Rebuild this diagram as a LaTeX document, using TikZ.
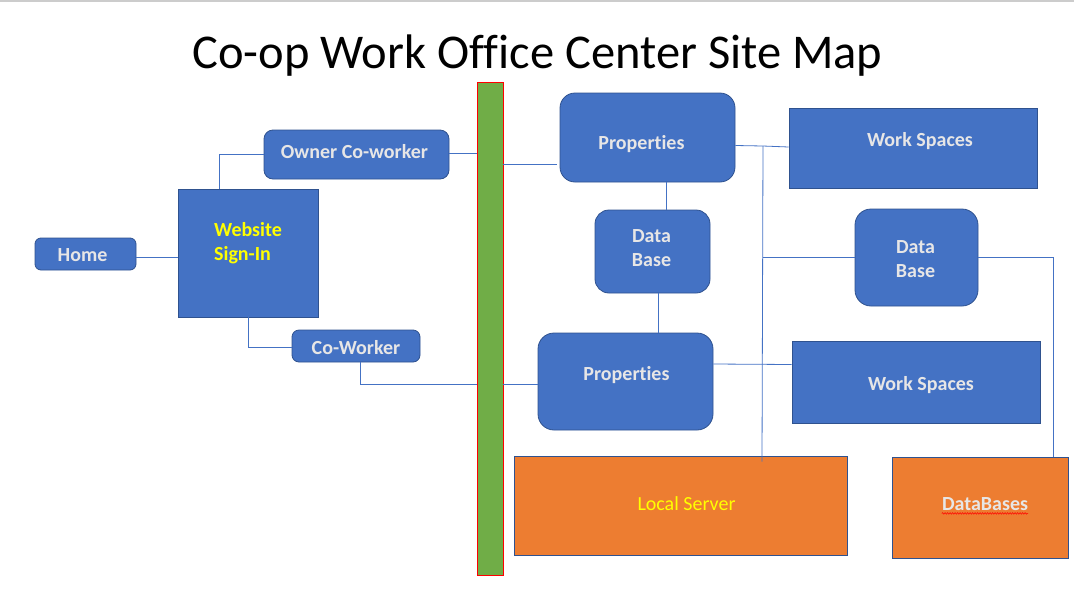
\documentclass[tikz,border=0pt]{standalone}
\usepackage{fontspec}
\setmainfont{Carlito}[Ligatures=NoCommon]
\usetikzlibrary{positioning,decorations.pathmorphing}
\definecolor{cblue}{HTML}{4472C4}
\definecolor{cedge}{HTML}{2F528F}
\definecolor{corange}{HTML}{ED7D31}
\definecolor{cgreen}{HTML}{70AD47}
\definecolor{clight}{HTML}{E7E6E6}
\definecolor{cyellow}{HTML}{FFFF00}

\begin{document}
\begin{tikzpicture}[x=1pt, y=-1pt,
    box/.style={draw=cedge, fill=cblue, line width=0.8pt, inner sep=0pt},
    rbox/.style={box, rounded corners=#1},
    srv/.style={draw=cedge, fill=corange, line width=0.8pt, inner sep=0pt},
    lbl/.style={inner sep=0pt, text=clight, font=\bfseries\fontsize{20}{24}\selectfont, align=center},
    link/.style={draw=cblue, line width=0.8pt}
  ]
  \useasboundingbox (0,0) rectangle (1074,590);
  \draw[line width=1.2pt, black!20] (0,1) -- (1074,1);

  % title
  \node[anchor=base, inner sep=0pt, font=\fontsize{48.5}{58}\selectfont] (title) at (537.5,68) {Co-op Work Office Center Site Map};

  % left side
  \node[rbox=6pt, minimum width=101, minimum height=32] (home) at (85.5,254) {};
  \node[box, minimum width=140, minimum height=128] (web) at (248,253) {};
  \node[rbox=9pt, minimum width=185, minimum height=49] (owner) at (356.5,154.5) {};
  \node[rbox=7pt, minimum width=128, minimum height=32] (cowork) at (356,346) {};
  \node[draw=red, fill=cgreen, line width=0.8pt, minimum width=26, minimum height=493, inner sep=0pt] (bar) at (490,328.5) {};

  \node[lbl] (homet) at ([xshift=-3pt,yshift=-1pt]home.center) {Home};
  \node[lbl, text=cyellow, align=left] (webt) at ([yshift=10pt]web.center) {Website\\Sign-In};
  \node[lbl] (ownert) at ([xshift=-2pt,yshift=3pt]owner.center) {Owner Co-worker};
  \node[lbl] (coworkt) at ([yshift=-2pt]cowork.center) {Co-Worker};

  % right side
  \node[rbox=15pt, minimum width=175, minimum height=89] (prop1) at (647.5,137.5) {};
  \node[rbox=14pt, minimum width=115, minimum height=83] (db1) at (652.5,251.5) {};
  \node[rbox=16pt, minimum width=175, minimum height=97] (prop2) at (625.5,381.5) {};
  \node[box, minimum width=248, minimum height=80] (ws1) at (913,148) {};
  \node[rbox=16pt, minimum width=123, minimum height=97] (db2) at (916.5,257.5) {};
  \node[box, minimum width=248, minimum height=82] (ws2) at (916,382) {};
  \node[srv, minimum width=333, minimum height=99] (local) at (680.5,505.5) {};
  \node[srv, minimum width=176, minimum height=101] (dbs) at (980,507.5) {};

  \node[lbl] (prop1t) at ([xshift=-6pt,yshift=-7pt]prop1.center) {Properties};
  \node[lbl] (db1t) at ([xshift=-1pt,yshift=3pt]db1.center) {Data\\Base};
  \node[lbl] (prop2t) at ([xshift=1pt,yshift=6pt]prop2.center) {Properties};
  \node[lbl] (ws1t) at ([xshift=7pt,yshift=7pt]ws1.center) {Work Spaces};
  \node[lbl] (db2t) at ([xshift=-1pt,yshift=-2pt]db2.center) {Data\\Base};
  \node[lbl] (ws2t) at ([xshift=5pt,yshift=-3pt]ws2.center) {Work Spaces};
  \node[lbl, text=cyellow, font=\fontsize{20}{24}\selectfont] (localt) at ([xshift=6pt,yshift=2pt]local.center) {Local Server};
  \node[lbl] (dbst) at ([xshift=5pt,yshift=3pt]dbs.center) {DataBases};
  \draw[red, line width=0.5pt, decorate, decoration={snake, amplitude=0.8pt, segment length=2.5pt}]
    ([yshift=-2.5pt]dbst.base west) -- ([yshift=-2.5pt]dbst.base east);

  % connectors
  \draw[link] ([yshift=-3pt]home.east) -- ([yshift=-3pt]home.east -| web.west);
  \draw[link] ([xshift=-29pt]web.north) |- (owner.west);
  \draw[link] (web.south) |- ([yshift=-1pt]cowork.west);
  \draw[link] ([yshift=1.5pt]owner.east) -- ([yshift=1.5pt]owner.east -| bar.west);
  \draw[link] ([xshift=4pt]cowork.south) |- ([yshift=-2.5pt]prop2.west -| bar.west);
  \draw[link] ([yshift=-26.5pt]prop1.west -| bar.east) -- ([xshift=-3pt,yshift=-26.5pt]prop1.west);
  \draw[link] ([yshift=-2.5pt]prop2.west -| bar.east) -- ([yshift=-2.5pt]prop2.west);

  \draw[link] ([xshift=13.5pt]db1.north |- prop1.south) -- ([xshift=13.5pt]db1.north);
  \draw[link] ([xshift=6pt]db1.south) -- ([xshift=6pt]db1.south |- prop2.north);

  \coordinate (tap) at (763,146);
  \draw[link] ([yshift=-8pt]prop1.east) -- (tap) -- ([yshift=1pt]ws1.west);
  \draw[link] (tap) -- ([xshift=81.5pt,yshift=-6pt]local.north);
  \draw[link] (db2.west -| tap) -- (db2.west);
  \draw[link] (db2.east) -| ([xshift=73pt]dbs.north);
  \draw[link] ([yshift=17.5pt]prop2.east) -- ([yshift=17pt]prop2.east -| ws2.west);
\end{tikzpicture}
\end{document}
